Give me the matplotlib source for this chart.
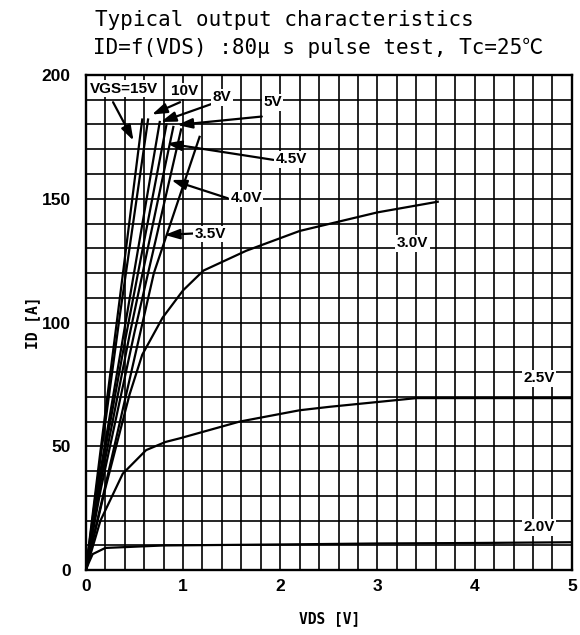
"""Typical output characteristics ID=f(VDS) of a power MOSFET, redrawn from a datasheet figure."""
import matplotlib
matplotlib.use("Agg")
import matplotlib.pyplot as plt

# curves, VDS [V] / ID [A]
vds_15v = [0, 0.15, 0.35, 0.58]
id_15v = [0, 48, 110, 182]
vds_10v = [0, 0.15, 0.35, 0.64]
id_10v = [0, 45, 103, 182]
vds_8v = [0, 0.15, 0.40, 0.76]
id_8v = [0, 40, 98, 181]
vds_5v = [0, 0.15, 0.40, 0.83]
id_5v = [0, 38, 92, 180]
vds_4v5 = [0, 0.15, 0.45, 0.90]
id_4v5 = [0, 35, 95, 179]
vds_4v0 = [0, 0.15, 0.50, 0.98]
id_4v0 = [0, 32, 96, 178]
vds_3v5 = [0, 0.20, 0.70, 1.17]
id_3v5 = [0, 34, 120, 175]
vds_3v0 = [0, 0.20, 0.45, 0.58, 0.79, 1.0, 1.21, 1.65, 2.2, 3.0, 3.62]
id_3v0 = [0, 33, 71, 87, 102, 113, 121, 129, 137, 144.5, 148.8]
vds_2v5 = [0, 0.15, 0.38, 0.62, 0.82, 0.97, 1.58, 2.2, 2.51, 3.4, 5.0]
id_2v5 = [0, 20, 39, 48.5, 51.8, 53.3, 60, 64.6, 66, 69.5, 69.5]
vds_2v0 = [0, 0.03, 0.07, 0.2, 0.8, 2.0, 3.0, 4.0, 5.0]
id_2v0 = [0, 3, 6.5, 9, 10, 10.4, 10.8, 11.0, 11.3]

curves = [
    (vds_15v, id_15v), (vds_10v, id_10v), (vds_8v, id_8v), (vds_5v, id_5v),
    (vds_4v5, id_4v5), (vds_4v0, id_4v0), (vds_3v5, id_3v5), (vds_3v0, id_3v0),
    (vds_2v5, id_2v5), (vds_2v0, id_2v0),
]

x_ticks = [0, 1, 2, 3, 4, 5]
y_ticks = [0, 50, 100, 150, 200]

GOTHIC = ["DejaVu Sans Mono", "Noto Sans CJK JP"]
NARROW = ["Liberation Sans", "DejaVu Sans"]

fig = plt.figure(figsize=(5.8, 6.35), dpi=100)
ax = fig.add_axes([0.148, 0.102, 0.838, 0.780])

for x, y in curves:
    ax.plot(x, y, color="black", lw=1.6, zorder=3)

ax.set_xlim(0, 5)
ax.set_ylim(0, 200)
ax.set_xticks(x_ticks)
ax.set_yticks(y_ticks)
ax.set_xticks([i * 0.2 for i in range(26)], minor=True)
ax.set_yticks(range(0, 201, 10), minor=True)
ax.grid(which="both", color="black", lw=1.2)
ax.tick_params(which="both", length=0)
ax.tick_params(axis="x", pad=6.5)
ax.tick_params(axis="y", pad=11)
for lab in ax.get_xticklabels() + ax.get_yticklabels():
    lab.set_fontfamily(NARROW)
    lab.set_fontweight("bold")
    lab.set_fontsize(12.5)
for sp in ax.spines.values():
    sp.set_linewidth(1.7)

ax.set_xlabel("VDS [V]", family=GOTHIC, fontsize=10.5, fontweight="bold")
ax.set_ylabel("ID [A]", family=GOTHIC, fontsize=10.5, fontweight="bold")
ax.xaxis.set_label_coords(0.502, -0.083)
ax.yaxis.set_label_coords(-0.095, 0.5)

fig.text(0.164, 0.968, "Typical output characteristics", family=GOTHIC,
         fontsize=15, va="center", ha="left")
fig.text(0.160, 0.924, "ID=f(VDS) :80\u03bc s pulse test, Tc=25\u2103", family=GOTHIC,
         fontsize=15, va="center", ha="left")

label_kw = dict(family=NARROW, fontweight="bold", fontsize=11, ha="center", va="center",
                zorder=5, bbox=dict(facecolor="white", edgecolor="none", pad=1))
arrow_kw = dict(arrowstyle="-|>,head_length=0.9,head_width=0.3", color="black", lw=1.6,
                shrinkA=0, shrinkB=0)

# label text, label position, arrow tail, arrow head
callouts = [
    ("VGS=15V", (0.39, 194.5), (0.28, 189), (0.49, 173.5)),
    ("10V", (1.02, 193.5), (0.97, 189), (0.68, 184)),
    ("8V", (1.40, 191.0), (1.31, 188.5), (0.77, 181)),
    ("5V", (1.92, 189.0), (1.81, 183.2), (0.94, 179.8)),
    ("4.5V", (2.11, 166.0), (1.93, 165.7), (0.83, 172.4)),
    ("4.0V", (1.65, 150.2), (1.46, 150.2), (0.88, 157.6)),
    ("3.5V", (1.28, 135.8), (1.12, 136.0), (0.81, 135.4)),
]
for text, pos, tail, head in callouts:
    ax.annotate("", xy=head, xytext=tail, arrowprops=arrow_kw, zorder=4)
    ax.text(pos[0], pos[1], text, **label_kw)

ax.text(3.36, 132, "3.0V", **label_kw)
ax.text(4.66, 77.5, "2.5V", **label_kw)
ax.text(4.66, 17.4, "2.0V", **label_kw)

fig.savefig("out.png", dpi=100)
